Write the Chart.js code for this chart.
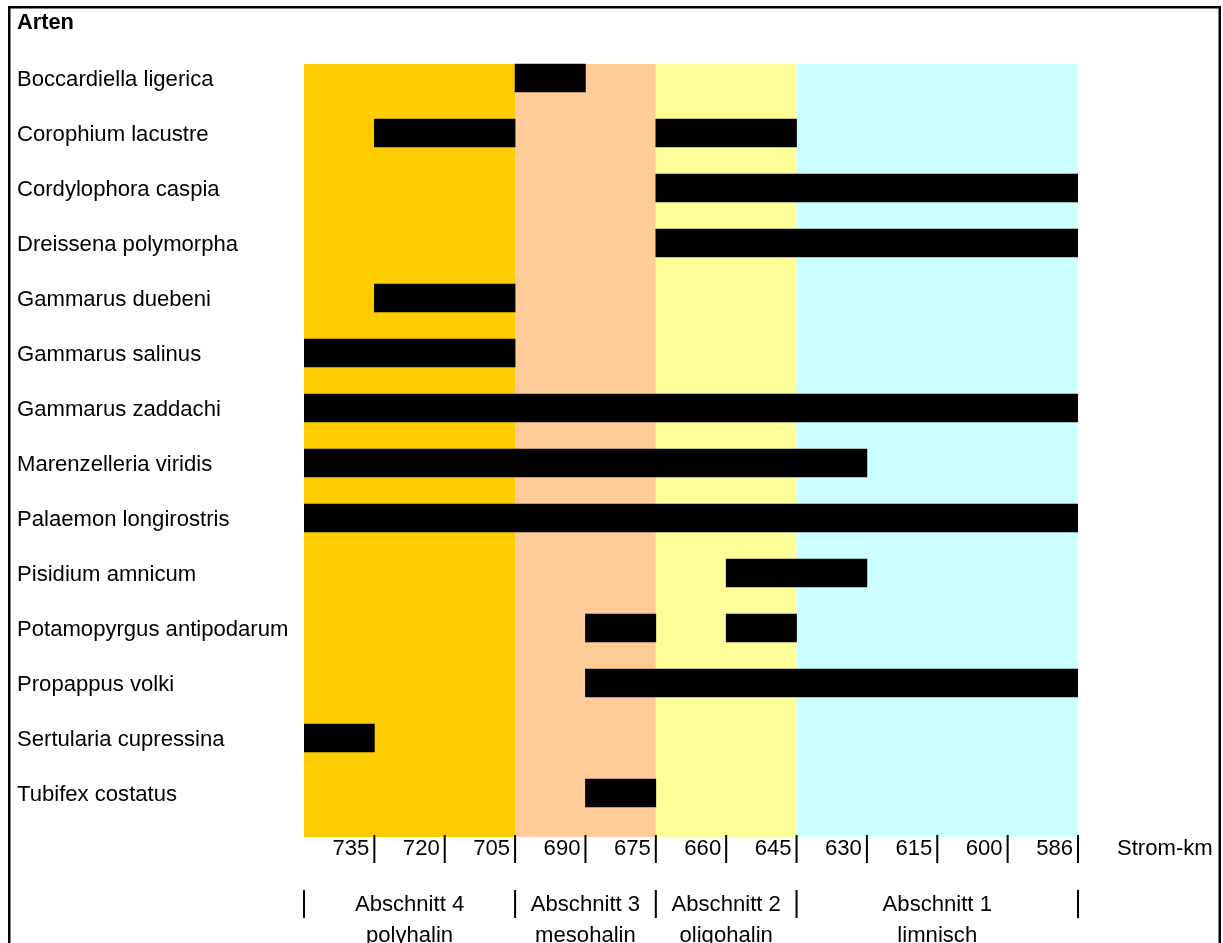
<!DOCTYPE html>
<html>
<head>
<meta charset="utf-8">
<script src="https://cdn.jsdelivr.net/npm/chart.js@4/dist/chart.umd.min.js"></script>
<style>
  body { margin: 0; background: #fff; }
</style>
</head>
<body>
<canvas id="diagram" width="1223" height="943"></canvas>
<script>
// Arten (Zeilen)
const species = [
  "Boccardiella ligerica",
  "Corophium lacustre",
  "Cordylophora caspia",
  "Dreissena polymorpha",
  "Gammarus duebeni",
  "Gammarus salinus",
  "Gammarus zaddachi",
  "Marenzelleria viridis",
  "Palaemon longirostris",
  "Pisidium amnicum",
  "Potamopyrgus antipodarum",
  "Propappus volki",
  "Sertularia cupressina",
  "Tubifex costatus",
];

// Strom-km Spalten (0..11)
const kmLabels = ["735", "720", "705", "690", "675", "660", "645", "630", "615", "600", "586"];

// Vorkommen: erster und zweiter Abschnitt je Art [von, bis] in Spalten
const range1 = [
  [3, 4], [1, 3], [5, 11], [5, 11], [1, 3], [0, 3], [0, 11],
  [0, 8], [0, 11], [6, 8], [4, 5], [4, 11], [0, 1], [4, 5],
];
const range2 = [
  null, [5, 7], null, null, null, null, null,
  null, null, null, [6, 7], null, null, null,
];

// Abschnitte
const sectionBounds = [0, 3, 5, 7, 11];
const sectionNames = ["Abschnitt 4", "Abschnitt 3", "Abschnitt 2", "Abschnitt 1"];
const sectionSubs = ["polyhalin", "mesohalin", "oligohalin", "limnisch"];
const sectionColors = ["#FFCC00", "#FFCC99", "#FFFF99", "#CCFFFF"];

const FONT = '"Liberation Sans", Arial, sans-serif';
const BAR = 28;

const drawExtras = {
  id: "drawExtras",
  beforeDatasetsDraw(chart) {
    const ctx = chart.ctx;
    const x = chart.scales.x;
    const y = chart.scales.y;
    const row = y.getPixelForValue(1) - y.getPixelForValue(0);
    const top = y.getPixelForValue(0) - BAR / 2;
    const bottom = y.getPixelForValue(species.length - 1) + row * 0.8;
    ctx.save();
    for (let i = 0; i < sectionColors.length; i++) {
      const x1 = x.getPixelForValue(sectionBounds[i]);
      const x2 = x.getPixelForValue(sectionBounds[i + 1]);
      ctx.fillStyle = sectionColors[i];
      ctx.fillRect(x1, top, x2 - x1, bottom - top);
    }
    ctx.restore();
  },
  afterDraw(chart) {
    const ctx = chart.ctx;
    const x = chart.scales.x;
    const y = chart.scales.y;
    ctx.save();

    // Rahmen
    ctx.strokeStyle = "#000";
    ctx.lineWidth = 2.5;
    ctx.strokeRect(9.25, 7.25, 1210.5, 960);

    ctx.fillStyle = "#000";
    ctx.textBaseline = "middle";

    // Titel
    ctx.font = "bold 21.8px " + FONT;
    ctx.textAlign = "left";
    ctx.fillText("Arten", 17, 23);

    // Artnamen
    ctx.font = "22.1px " + FONT;
    species.forEach((s, i) => {
      ctx.fillText(s, 17, y.getPixelForValue(i) + 1.5);
    });

    // Strom-km Beschriftung und Striche
    const kmY = 849;
    ctx.textAlign = "right";
    ctx.lineWidth = 2;
    kmLabels.forEach((k, i) => {
      const px = x.getPixelForValue(i + 1);
      ctx.fillText(k, px - 5, kmY);
      ctx.beginPath();
      ctx.moveTo(px, 835);
      ctx.lineTo(px, 863);
      ctx.stroke();
    });
    ctx.textAlign = "left";
    ctx.fillText("Strom-km", 1117, kmY);

    // Abschnitte
    ctx.textAlign = "center";
    sectionBounds.forEach((b) => {
      const px = x.getPixelForValue(b);
      ctx.beginPath();
      ctx.moveTo(px, 890);
      ctx.lineTo(px, 918);
      ctx.stroke();
    });
    for (let i = 0; i < sectionNames.length; i++) {
      const cx = (x.getPixelForValue(sectionBounds[i]) + x.getPixelForValue(sectionBounds[i + 1])) / 2;
      ctx.fillText(sectionNames[i], cx, 905);
      ctx.fillText(sectionSubs[i], cx, 936);
    }
    ctx.restore();
  },
};

const config = {
  type: "bar",
  data: {
    labels: species,
    datasets: [
      {
        label: "Vorkommen",
        data: range1,
        backgroundColor: "#000000",
        barThickness: BAR,
        grouped: false,
      },
      {
        label: "Vorkommen 2",
        data: range2,
        backgroundColor: "#000000",
        barThickness: BAR,
        grouped: false,
      },
    ],
  },
  options: {
    indexAxis: "y",
    responsive: false,
    animation: false,
    layout: {
      padding: { left: 304, right: 145, top: 50.5, bottom: 122.5 },
    },
    plugins: {
      legend: { display: false },
      tooltip: { enabled: false },
    },
    scales: {
      x: { type: "linear", min: 0, max: 11, display: false },
      y: { type: "category", display: false, offset: true },
    },
  },
  plugins: [drawExtras],
};

new Chart(document.getElementById("diagram"), config);
</script>
</body>
</html>
